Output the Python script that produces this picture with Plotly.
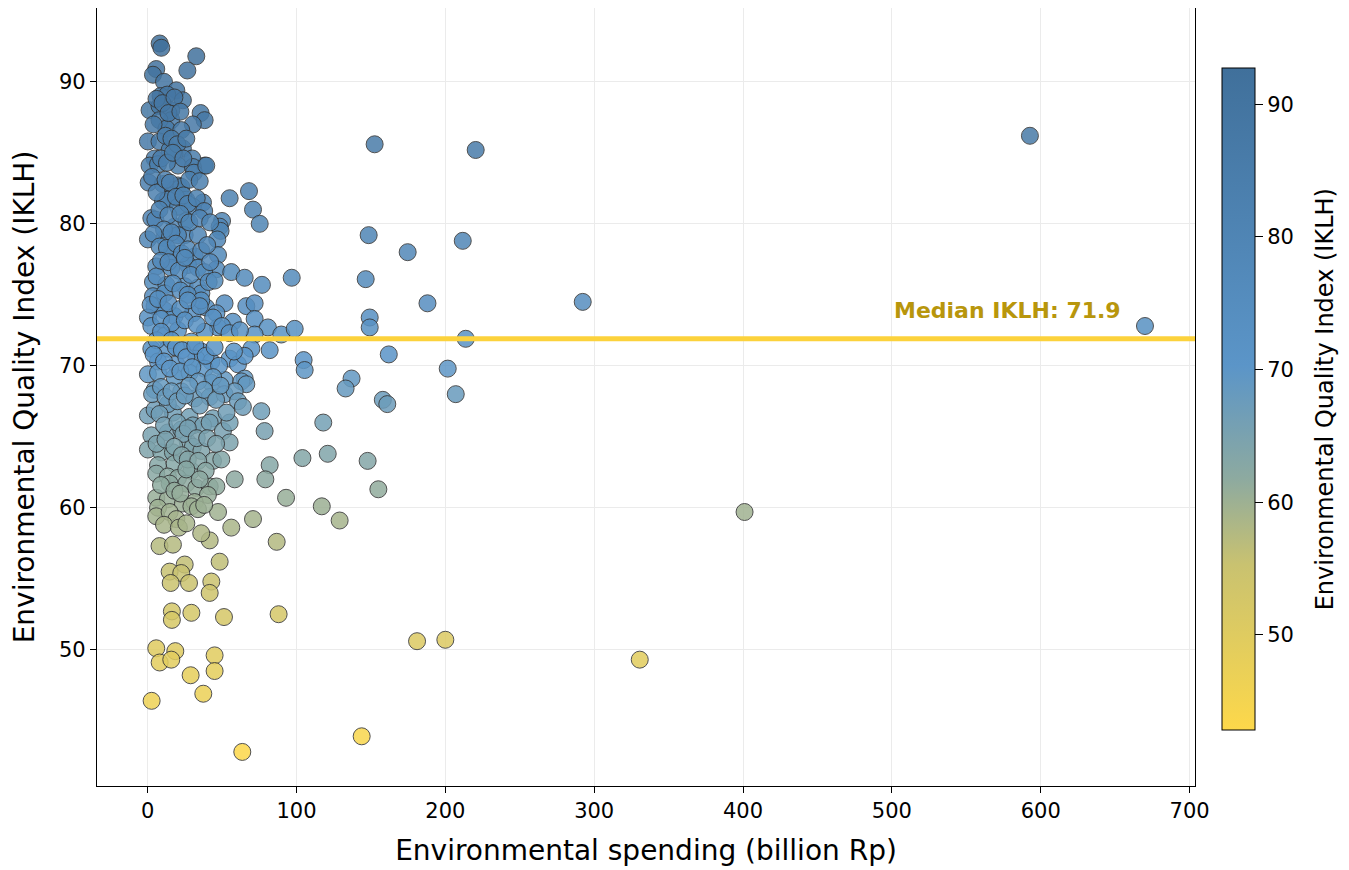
import plotly.graph_objects as go

# Environmental spending (billion Rp) and IKLH values
spending = [
    # outliers / sparse region
    152.5, 220.4, 148.5, 211.7, 174.7, 146.5, 96.8, 188.0, 292.3, 149.2, 149.2, 213.7,
    670.0, 592.7, 104.8, 105.5, 162.0, 201.6, 207.0, 137.0, 133.0, 158.0, 161.0, 118.0,
    104.0, 121.0, 147.8, 155.0, 93.0, 117.0, 129.0, 401.0, 86.7, 88.0, 181.0, 200.0,
    330.6, 143.8, 63.6, 82.0,
    # top cluster
    8.1, 9.2, 32.7, 26.7, 5.8, 3.6, 11.0, 19.3, 8.7, 13.2, 23.7, 1.3, 8.0, 15.9, 35.6,
    38.3, 30.4, 15.9, 8.0, 12.6, 22.6, 0.2, 8.0, 23.7, 18.0, 14.8, 4.7, 38.3, 30.0,
    # 84 - 75
    1.3, 7.0, 20.4, 30.4, 31.1, 39.4, 0.7, 10.3, 20.4, 18.1, 22.6, 17.0, 10.3, 13.6,
    26.0, 37.2, 20.4, 30.4, 55.1, 68.1, 70.8, 75.3, 50.0, 48.4, 49.0, 46.8, 47.3, 46.2,
    56.2, 65.2, 76.8, 0.2, 2.5, 5.2, 11.4, 18.1, 26.0, 24.9, 33.8, 20.4, 15.9, 31.6,
    5.8, 15.9, 27.1, 33.8, 3.6, 12.6, 24.9, 33.8,
    # 75 - 66
    3.6, 11.4, 36.1, 4.7, 0.2, 11.4, 18.1, 30.4, 39.4, 51.7, 46.2, 66.3, 71.9, 57.3,
    71.9, 80.8, 89.8, 98.8, 71.9, 47.3, 38.3, 20.4, 2.5, 11.4, 29.4, 2.5, 13.6, 36.1,
    69.7, 82.0, 55.1, 60.7, 65.2, 7.0, 19.3, 32.7, 42.8, 0.2, 7.0, 18.1, 28.2, 38.3,
    42.8, 51.7, 65.2, 63.0, 66.3, 4.7, 22.6, 31.6, 41.7, 51.7, 58.5, 60.7, 64.0, 76.4,
    0.2, 4.7, 17.0, 28.2, 43.9, 13.6,
    # 66 - 56
    2.5, 13.6, 22.6, 30.4, 37.2, 41.7, 50.6, 55.1, 55.1, 78.6, 0.2, 9.2, 17.0, 27.1,
    30.4, 36.1, 43.9, 49.5, 7.0, 18.1, 29.4, 5.8, 13.6, 20.4, 14.8, 26.0, 32.7, 41.7,
    46.2, 40.5, 58.5, 79.1, 5.8, 13.6, 23.7, 31.6, 29.4, 7.0, 5.8, 14.8, 19.3, 33.8,
    47.3, 56.2, 70.8, 8.0, 17.0, 41.7,
    # 56 - 42
    48.4, 14.8, 24.9, 22.6, 15.5, 27.8, 42.8, 41.7, 16.3, 16.3, 29.4, 51.3, 5.8, 8.1,
    18.6, 15.9, 45.0, 45.0, 28.9, 2.7, 37.4,
    # partly hidden points inside the dense cluster
    6, 10, 14, 18, 22, 4, 12, 16, 20, 26, 9, 13, 17, 24, 28, 35,
    3, 6, 12, 15, 19, 24, 27, 33, 38, 8, 14, 22, 28, 35, 42, 11, 16,
    4, 8, 13, 19, 23, 27, 36, 40, 6, 9, 14, 21, 25, 29, 38, 42, 17, 22, 27, 36, 41, 45,
    2, 7, 9, 14, 16, 22, 25, 27, 33, 35, 44, 50, 55, 6, 9, 16, 19, 23, 26, 32, 39, 45,
    48, 58, 62, 4, 11, 15, 22, 30, 34, 44,
    3, 9, 12, 16, 20, 25, 28, 35, 38, 46, 49, 53, 8, 11, 20, 24, 27, 33, 40, 46, 6, 12,
    18, 23, 27, 34, 39,
    9, 18, 22, 26, 35, 38, 11, 21, 26, 36,
]

iklh = [
    # outliers / sparse region
    85.6, 85.2, 79.2, 78.8, 78.0, 76.1, 76.2, 74.4, 74.5, 73.4, 72.7, 71.9,
    72.8, 86.2, 70.4, 69.7, 70.8, 69.8, 68.0, 69.1, 68.4, 67.6, 67.3, 66.0,
    63.5, 63.8, 63.3, 61.3, 60.7, 60.1, 59.1, 59.7, 57.6, 52.5, 50.6, 50.7,
    49.3, 43.9, 42.8, 63.0,
    # top cluster
    92.7, 92.4, 91.8, 90.8, 90.9, 90.5, 90.0, 89.4, 89.0, 89.1, 88.7, 88.0, 88.3, 88.0, 87.8,
    87.3, 87.0, 87.3, 87.3, 86.7, 86.6, 85.8, 85.8, 85.3, 84.9, 85.2, 84.6, 84.1, 84.6,
    # 84 - 75
    84.1, 84.2, 84.1, 84.0, 83.6, 84.1, 82.9, 82.8, 82.7, 82.4, 82.6, 82.0, 81.6, 81.7,
    81.7, 81.5, 81.2, 81.2, 81.8, 82.3, 81.0, 80.0, 80.2, 79.8, 79.5, 78.9, 77.8, 76.8,
    76.6, 76.2, 75.7, 78.9, 80.4, 80.3, 79.0, 79.8, 80.2, 79.2, 79.2, 79.2, 77.9, 77.7,
    77.0, 76.9, 77.1, 76.9, 75.9, 75.7, 75.6, 75.5,
    # 75 - 66
    74.9, 75.1, 75.1, 74.2, 73.4, 73.9, 73.5, 73.7, 74.1, 74.4, 73.7, 74.2, 74.4, 73.1,
    73.3, 72.7, 72.2, 72.6, 72.2, 72.7, 72.4, 72.5, 72.8, 72.1, 71.7, 71.2, 71.2, 71.0,
    71.2, 71.1, 70.5, 70.1, 70.7, 70.3, 70.1, 70.5, 70.3, 69.4, 69.5, 69.2, 69.5, 69.8,
    68.8, 69.0, 69.1, 68.9, 68.7, 68.3, 68.2, 67.7, 67.8, 68.0, 68.2, 67.5, 67.1, 66.8,
    66.5, 66.9, 66.7, 66.4, 66.3, 67.3,
    # 66 - 56
    65.1, 65.3, 65.5, 65.8, 65.8, 66.0, 65.4, 66.0, 64.6, 65.4, 64.1, 63.9, 63.9, 64.6,
    64.3, 64.0, 63.3, 63.4, 63.0, 63.1, 62.6, 62.4, 62.2, 62.1, 61.7, 61.7, 61.4, 61.5,
    61.5, 60.9, 62.0, 62.0, 60.7, 60.6, 60.3, 60.4, 60.1, 60.0, 59.4, 59.7, 59.2, 59.9,
    59.7, 58.6, 59.2, 57.3, 57.4, 57.7,
    # 56 - 42
    56.2, 55.5, 56.0, 55.4, 54.7, 54.7, 54.8, 54.0, 52.7, 52.1, 52.6, 52.3, 50.1, 49.1,
    49.9, 49.3, 49.6, 48.5, 48.2, 46.4, 46.9,
    # partly hidden points inside the dense cluster
    88.8, 88.5, 87.8, 88.9, 87.9, 87.0, 86.2, 86.0, 85.6, 86.0, 84.6, 84.3, 85.0, 84.6, 83.1, 83.0,
    83.3, 82.2, 83.1, 82.9, 81.9, 82.0, 81.4, 81.8, 80.9, 81.0, 80.6, 80.7, 80.1, 80.4, 80.1, 79.6, 79.4,
    79.3, 78.4, 78.3, 78.6, 77.9, 78.2, 78.1, 78.5, 76.3, 77.4, 77.3, 76.7, 77.6, 76.4, 76.6, 77.3,
    75.8, 75.3, 75.0, 74.6, 75.9, 76.0,
    74.3, 74.7, 73.3, 74.4, 73.0, 74.0, 73.2, 74.6, 72.9, 74.2, 73.4, 72.8, 72.3, 71.8, 72.4, 71.8,
    71.3, 71.1, 70.6, 71.4, 70.7, 71.3, 70.0, 71.0, 72.5, 70.8, 70.3, 69.8, 69.6, 69.9, 68.9, 69.2,
    68.0, 68.5, 67.8, 68.2, 67.5, 67.9, 68.6, 67.2, 68.3, 67.6, 68.6, 66.7, 66.6, 65.8, 66.0, 65.2,
    65.6, 64.9, 64.9, 64.5, 64.5, 64.8, 64.3, 63.7, 63.4, 63.3, 62.6,
    61.6, 61.2, 61.0, 62.7, 62.0, 60.2, 58.8, 58.6, 58.9, 58.2,
]

median_iklh = 71.9
x_ticks = [0, 100, 200, 300, 400, 500, 600, 700]
y_ticks = [50, 60, 70, 80, 90]
cb_ticks = [50, 60, 70, 80, 90]

colorscale = [
    [0.0, "#fdd84a"],
    [0.25, "#c9c270"],
    [0.38, "#8daaa0"],
    [0.55, "#5b95c8"],
    [1.0, "#40709b"],
]

fig = go.Figure()
fig.add_trace(go.Scatter(
    x=spending, y=iklh, mode="markers",
    marker=dict(
        size=17, color=iklh, colorscale=colorscale, cmin=42.8, cmax=92.7,
        opacity=0.85, line=dict(color="#333333", width=1),
        showscale=True,
        colorbar=dict(
            x=1.0246, xanchor="left", xpad=0, ypad=0,
            y=0.497, yanchor="middle", len=0.851, lenmode="fraction",
            thickness=33, outlinecolor="black", outlinewidth=1,
            tickvals=cb_ticks, ticks="outside", ticklen=8, tickcolor="black",
            tickfont=dict(family="DejaVu Sans", size=21, color="black"),
        ),
    ),
    showlegend=False,
    hoverinfo="x+y",
))

# colour bar label
fig.add_annotation(x=1.1184, y=0.497, xref="paper", yref="paper",
                   text="Environmental Quality Index (IKLH)", showarrow=False,
                   textangle=-90, xanchor="center", yanchor="middle",
                   font=dict(family="DejaVu Sans", size=24, color="black"))

fig.add_shape(type="line", xref="paper", x0=0, x1=1, yref="y", y0=median_iklh, y1=median_iklh,
              line=dict(color="#fcd23c", width=5), layer="above")
fig.add_annotation(x=655, y=median_iklh + 1.0, xref="x", yref="y",
                   text=f"<b>Median IKLH: {median_iklh}</b>", showarrow=False,
                   xanchor="right", yanchor="bottom",
                   font=dict(family="DejaVu Sans", size=22, color="#b8960c"))

axis_common = dict(
    showline=True, linecolor="black", linewidth=1.2, mirror=True,
    ticks="outside", ticklen=6, tickcolor="black",
    showgrid=True, gridcolor="#ebebeb", gridwidth=1, zeroline=False,
    tickfont=dict(family="DejaVu Sans", size=21, color="black"),
)
fig.update_xaxes(range=[-34, 703.6], tickvals=x_ticks,
                 title=dict(text="Environmental spending (billion Rp)",
                            font=dict(family="DejaVu Sans", size=28, color="black"), standoff=18),
                 **axis_common)
fig.update_yaxes(range=[40.4, 95.2], tickvals=y_ticks,
                 title=dict(text="Environmental Quality Index (IKLH)",
                            font=dict(family="DejaVu Sans", size=28, color="black"), standoff=16),
                 **axis_common)

fig.update_layout(
    width=1349, height=870,
    margin=dict(l=89, r=162, t=0, b=92),
    plot_bgcolor="white", paper_bgcolor="white",
    font=dict(family="DejaVu Sans"),
)

fig.write_html("out.html")
